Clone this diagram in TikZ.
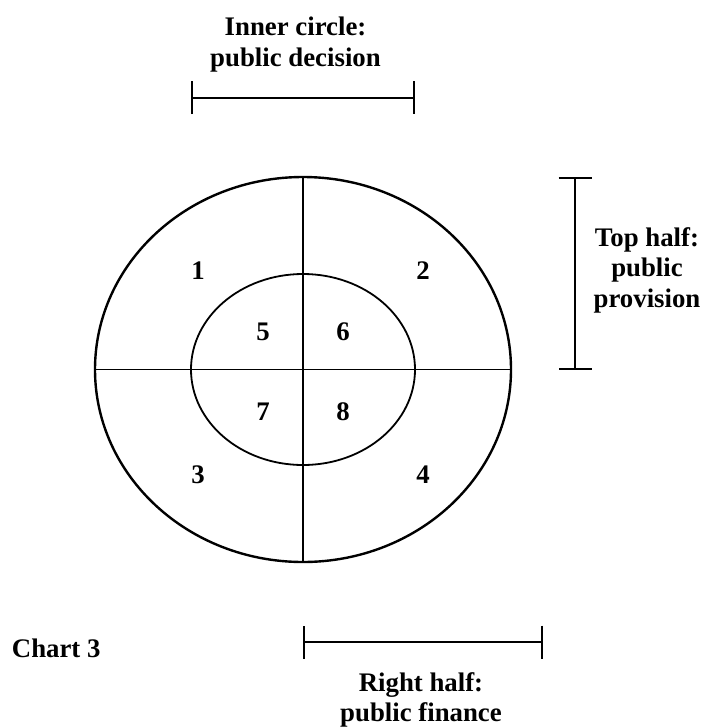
\documentclass[tikz,border=0pt]{standalone}
\usepackage{fontspec}
\setmainfont{Liberation Serif}
\usetikzlibrary{shapes.geometric, arrows.meta, positioning}

\begin{document}
\begin{tikzpicture}[
  x=1pt, y=-1pt,
  font=\fontsize{26.8}{30.5}\selectfont\bfseries,
  ring/.style={draw, ellipse, inner sep=0pt, outer sep=0pt},
  num/.style={inner sep=0pt},
  txt/.style={align=center, inner sep=0pt},
  brace/.style={{Bar[width=33pt]}-{Bar[width=33pt]}, line width=2pt},
]
\useasboundingbox (0,0) rectangle (704,728);

% --- outer and inner ellipse ---
\node[ring, line width=2.4pt, minimum width=416pt, minimum height=385pt] (outer) at (303,369.5) {};
\node[ring, line width=1.8pt, minimum width=224pt, minimum height=191pt] (inner) at (303,369.5) {};

% --- quarter lines ---
\draw[line width=1.8pt] (outer.north) -- (outer.south);
\draw[line width=1.8pt] (outer.west) -- (outer.east);

% --- numbers ---
\foreach \n/\x/\y in {1/198/270.5, 2/423/271, 3/198/475, 4/423/475,
                      5/263/332, 6/343/332, 7/263/412, 8/343/412}
  \node[num] (n\n) at (\x,\y) {\n};

% --- brackets ---
\coordinate (topL) at (191,97.7);
\coordinate (topR) at (415,97.7);
\coordinate (sideT) at (575,177.3);
\coordinate (sideB) at (575,370);
\coordinate (botL) at (303,642);
\coordinate (botR) at (543,642);
\draw[brace] (topL) -- (topR);
\draw[brace] (sideT) -- (sideB);
\draw[brace] (botL) -- (botR);

% --- labels ---
\node[txt] (innerlab) at (295.5,44.7) {Inner circle:\\public decision};
\node[txt] (toplab) at (647,270) {Top half:\\public\\provision};
\node[txt] (rightlab) at (421,700) {Right half:\\public finance};
\node[inner sep=0pt, anchor=base west] (chart) at (11.7,657) {Chart 3};

\end{tikzpicture}
\end{document}
